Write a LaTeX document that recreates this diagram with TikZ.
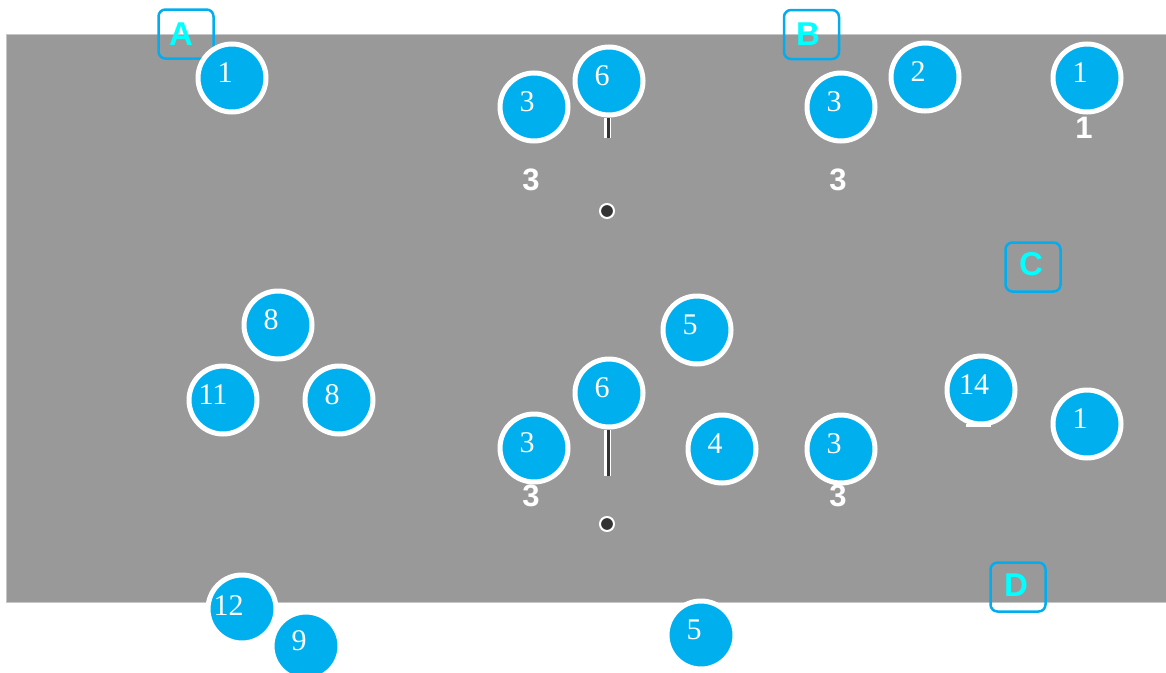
\documentclass[tikz,border=0pt]{standalone}
\usepackage{fontspec}
\setmainfont{Liberation Serif}
\newfontfamily\lsans{Liberation Sans}
\definecolor{bubblue}{HTML}{00B0EE}
\definecolor{boxblue}{HTML}{00AEEF}
\definecolor{lettercyan}{HTML}{00FFFF}
\definecolor{panelgray}{HTML}{999999}
\definecolor{dotdark}{HTML}{333333}
\begin{document}
\begin{tikzpicture}[x=1pt,y=-1pt,
  bub/.style={circle, fill=bubblue, draw=white, line width=5pt, minimum size=68pt, inner sep=0pt},
  bubtext/.style={text=white, font=\fontsize{30}{30}\selectfont, xshift=-7pt, yshift=5pt, inner sep=0pt},
  boldlabel/.style={text=white, font=\lsans\bfseries\fontsize{31}{31}\selectfont, inner sep=0pt},
  letterbox/.style={draw=boxblue, line width=2.5pt, rounded corners=7pt, minimum width=55pt, minimum height=49pt, inner sep=0pt},
  lettertext/.style={text=lettercyan, font=\lsans\bfseries\fontsize{33}{33}\selectfont, inner sep=0pt},
  darkdot/.style={circle, fill=dotdark, draw=white, line width=2pt, minimum size=14pt, inner sep=0pt},
  stemouter/.style={draw=white, line width=7pt},
  steminner/.style={draw=dotdark, line width=2.5pt}]
\useasboundingbox (0,0) rectangle (1166,672);
\fill[white] (0,0) rectangle (1166,672);
\node[draw=gray!45, fill=panelgray, line width=1pt, minimum width=1160pt, minimum height=568pt, inner sep=0pt, anchor=north west] (panel) at (6,34) {};

% bold labels (under circles)
\node[boldlabel] (l3a) at (531,180) {3};
\node[boldlabel] (l3b) at (838,180) {3};
\node[boldlabel] (l3c) at (531,496) {3};
\node[boldlabel] (l3d) at (838,496) {3};
\node[boldlabel] (l1a) at (1084,128) {1};
\fill[white] (966,424) rectangle (991,427);

% stems and dots
\node[darkdot] (dtop) at (607,211) {};
\node[darkdot] (dbot) at (607,524) {};
\coordinate (stemtopend) at (607.5,138);
\coordinate (stembotend) at (607.5,476);

% letter boxes
\node[letterbox] (boxA) at (186,34) {};
\node[lettertext] (tA) at (181,34) {A};
\node[letterbox] (boxB) at (811.5,34.5) {};
\node[lettertext] (tB) at (808,34) {B};
\node[letterbox] (boxC) at (1033,267) {};
\node[lettertext] (tC) at (1031,264) {C};
\node[letterbox] (boxD) at (1018,587) {};
\node[lettertext] (tD) at (1016,585) {D};

% circles
\node[bub, label={[bubtext]center:1}] (c1a) at (232,78) {};
\node[bub, label={[bubtext]center:3}] (c3a) at (534,107) {};
\node[bub, label={[bubtext]center:6}] (c6a) at (609,81) {};
\node[bub, label={[bubtext]center:3}] (c3b) at (841,107) {};
\node[bub, label={[bubtext]center:2}] (c2) at (925,77) {};
\node[bub, label={[bubtext]center:1}] (c1b) at (1087,78) {};
\node[bub, label={[bubtext]center:8}] (c8a) at (278,325) {};
\node[bub, label={[bubtext, xshift=-3pt]center:11}] (c11) at (223,400) {};
\node[bub, label={[bubtext]center:8}] (c8b) at (339,400) {};
\node[bub, label={[bubtext]center:5}] (c5a) at (697,330) {};
\node[bub, label={[bubtext]center:6}] (c6b) at (609,393) {};
\node[bub, label={[bubtext]center:3}] (c3c) at (534,448) {};
\node[bub, label={[bubtext]center:4}] (c4) at (722,449) {};
\node[bub, label={[bubtext]center:3}] (c3d) at (841,449) {};
\node[bub, label={[bubtext]center:14}] (c14) at (981,390) {};
\node[bub, label={[bubtext]center:1}] (c1c) at (1087,424) {};
\node[bub, label={[bubtext, xshift=-6.5pt, yshift=-2pt]center:12}] (c12) at (242,609) {};
\node[bub, label={[bubtext]center:9}] (c9) at (306,646) {};
\node[bub, label={[bubtext]center:5}] (c5b) at (701,635) {};

% stems from circle 6
\draw[stemouter] (c6a.south -| stemtopend) -- (stemtopend);
\draw[steminner] ([xshift=1pt]c6a.south -| stemtopend) -- ([xshift=1pt]stemtopend);
\draw[stemouter] (c6b.south -| stembotend) -- (stembotend);
\draw[steminner] ([xshift=1pt]c6b.south -| stembotend) -- ([xshift=1pt]stembotend);
\end{tikzpicture}
\end{document}
